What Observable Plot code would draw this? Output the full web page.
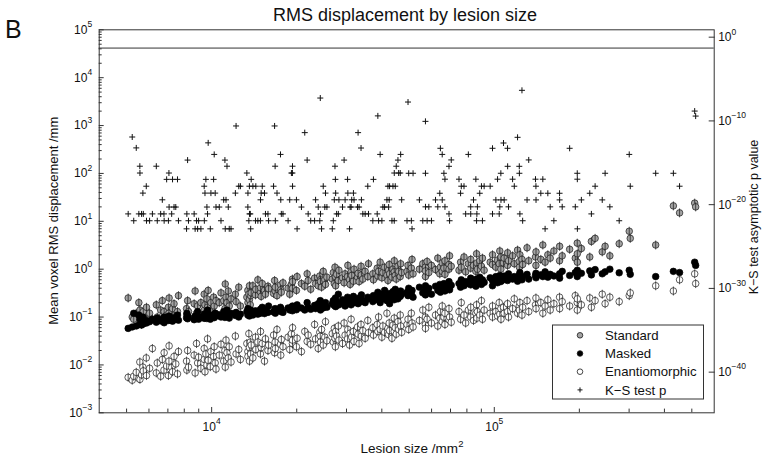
<!DOCTYPE html>
<html><head><meta charset="utf-8">
<script src="https://cdn.jsdelivr.net/npm/d3@7"></script>
<script src="https://cdn.jsdelivr.net/npm/@observablehq/plot@0.6"></script>
<style>
html,body{margin:0;padding:0;background:#fff;}
#chart{position:relative;width:766px;height:457px;overflow:hidden;background:#fff;}
#chart svg{position:absolute;left:0;top:0;}
</style></head><body><div id="chart"></div>
<script>
// ---- data ----
const lesionSize = [
 5065,5235,5300,5410,5525,5570,5575,5650,5710,5730,5870,5880,
 6030,6170,6370,6420,6600,6690,6780,6790,6930,7030,7060,7070,7220,7270,7360,7465,7570,7630,
 8150,8170,8220,8280,8670,8740,8840,8920,8990,9160,9410,9420,9470,9540,9620,9670,9720,9890,9940,10160,10210,10290,10360,
 10640,10790,11030,11140,11170,11240,11330,11450,11540,11710,12130,12200,12470,12640,13320,13430,13440,13540,13600,13610,13700,13740,
 13800,13990,14290,14330,14570,14880,14890,14970,15100,15380,15500,15820,15900,16560,16700,16770,16800,17030,17520,17560,17640,17880,18640,18890,
 19150,19310,19320,19330,19950,20060,20780,21350,21770,21950,22410,23130,23320,23830,24130,24230,24270,24480,24820,25140,25280,25570,
 26720,26940,27160,27310,27400,27460,27680,28070,28200,29040,29420,29660,30260,30330,30750,30900,31150,31300,31740,31900,32810,32970,33240,33770,33880,34270,34920,35680,35880,37180,
 37360,38520,38730,38960,39460,40020,40350,40920,41700,42040,42280,42480,42620,43440,43800,44260,44270,44630,44990,45620,45880,46480,46640,47020,
 49120,49520,49800,50880,51170,51590,54330,55850,57070,57080,57090,57860,58670,59930,61960,63110,64150,64470,65430,65440,66340,66900,66910,69140,69150,69480,70430,
 75010,75990,76420,78140,79200,80960,82530,82540,84430,86060,86560,86780,87160,88840,90070,90810,92080,96700,98560,98570,101300,102700,104100,104600,105500,105600,
 107800,108400,111400,111500,112300,116100,117700,120900,122600,122700,123200,125300,126000,130600,132400,139900,140400,140500,146100,148500,151300,154700,157700,
 162500,170200,170300,173900,184800,193500,196600,196700,196800,203300,217700,220600,227400,241000,246700,256400,276700,300300,302800,
 372500,430200,452500,511800,515900
];
const standard = [
 0.25,0.1,0.09,0.12,0.2,0.08,0.14,0.07,0.11,0.13,0.09,0.16,
 0.12,0.09,0.18,0.1,0.14,0.22,0.09,0.13,0.11,0.16,0.12,0.25,0.1,0.15,0.19,0.11,0.13,0.28,
 0.15,0.11,0.22,0.13,0.19,0.35,0.12,0.17,0.11,0.2,0.3,0.14,0.18,0.12,0.24,0.16,0.36,0.13,0.2,0.26,0.17,0.12,0.22,
 0.2,0.32,0.22,0.15,0.49,0.26,0.2,0.35,0.17,0.24,0.3,0.21,0.42,0.17,0.26,0.36,0.2,0.3,0.23,0.45,0.18,0.28,
 0.32,0.45,0.29,0.38,0.6,0.33,0.41,0.27,0.5,0.36,0.3,0.44,0.39,0.31,0.58,0.35,0.42,0.28,0.47,0.37,0.33,0.52,0.4,0.3,
 0.48,0.62,0.4,0.55,0.36,0.7,0.5,0.44,0.8,0.58,0.38,0.65,0.5,0.45,0.72,0.6,0.55,0.42,0.9,0.6,0.48,0.68,
 0.62,0.85,0.5,1.1,0.7,0.45,0.78,0.58,0.95,0.66,0.52,0.8,0.7,1.2,0.6,0.48,0.88,0.74,0.56,1.0,0.68,0.82,0.55,1.15,0.76,0.62,0.9,0.7,1.3,0.8,
 0.6,1.05,0.72,0.9,1.4,0.66,0.85,1.1,0.75,0.58,0.95,1.25,0.8,0.68,1.0,0.88,1.5,0.74,0.62,1.15,0.9,0.7,1.3,0.85,
 0.9,1.2,0.75,1.05,1.6,0.8,1.0,1.3,0.7,1.1,0.92,1.45,0.85,1.2,0.98,1.7,0.8,1.1,1.35,0.9,1.05,1.5,0.78,1.25,1.0,1.9,1.15,
 0.95,1.4,1.1,1.8,0.88,1.3,1.05,1.6,1.2,0.9,2.1,1.35,1.0,1.5,1.15,1.7,0.95,1.4,1.25,2.0,1.1,1.55,1.3,2.4,1.0,1.8,
 1.35,1.7,1.2,2.2,1.5,1.9,1.3,2.5,1.45,1.1,2.0,1.6,1.25,2.8,1.5,1.8,1.2,2.3,1.6,3.2,1.4,2.0,1.7,
 2.4,1.5,3.0,1.9,2.6,1.7,3.5,2.1,1.4,2.7,1.8,3.8,4.4,2.3,3.0,1.9,3.4,6.2,4.4,
 3.2,21,15,24,20
];
const masked = [
 0.058,0.062,0.12,0.065,0.11,0.07,0.09,0.068,0.1,0.072,0.085,0.075,
 0.08,0.09,0.078,0.095,0.083,0.088,0.1,0.076,0.092,0.085,0.105,0.087,0.094,0.082,0.097,0.09,0.11,0.086,
 0.096,0.12,0.092,0.1,0.088,0.105,0.097,0.13,0.09,0.1,0.094,0.115,0.098,0.108,0.093,0.14,0.1,0.09,0.11,0.102,0.097,0.12,0.105,
 0.112,0.1,0.13,0.098,0.115,0.105,0.14,0.11,0.095,0.12,0.108,0.125,0.1,0.115,0.13,0.11,0.15,0.12,0.105,0.118,0.125,0.14,
 0.12,0.11,0.135,0.128,0.115,0.145,0.12,0.13,0.16,0.118,0.14,0.125,0.17,0.128,0.135,0.15,0.12,0.138,0.16,0.13,0.145,0.125,0.155,0.14,
 0.16,0.135,0.17,0.15,0.142,0.18,0.155,0.14,0.2,0.16,0.145,0.175,0.15,0.19,0.16,0.22,0.14,0.17,0.155,0.18,0.2,0.16,
 0.19,0.22,0.175,0.2,0.25,0.165,0.21,0.3,0.18,0.23,0.2,0.17,0.26,0.19,0.22,0.24,0.18,0.21,0.27,0.2,0.23,0.19,0.25,0.21,0.29,0.22,0.2,0.26,0.24,0.21,
 0.28,0.23,0.33,0.25,0.2,0.3,0.24,0.36,0.22,0.27,0.31,0.25,0.19,0.29,0.34,0.26,0.23,0.38,0.28,0.24,0.32,0.27,0.35,0.3,
 0.33,0.28,0.4,0.3,0.36,0.26,0.42,0.32,0.38,0.29,0.45,0.34,0.4,0.3,0.44,0.36,0.48,0.33,0.42,0.38,0.5,0.35,0.45,0.4,0.55,0.37,0.46,
 0.5,0.42,0.6,0.45,0.55,0.5,0.65,0.47,0.58,0.44,0.62,0.5,0.56,0.68,0.48,0.6,0.53,0.66,0.45,0.58,0.7,0.52,0.62,0.74,0.55,0.64,
 0.6,0.72,0.58,0.66,0.8,0.62,0.7,0.56,0.75,0.64,0.85,0.6,0.7,0.78,0.62,0.73,0.82,0.66,0.76,0.7,0.88,0.68,0.78,
 0.72,0.8,0.65,0.9,0.74,0.85,0.7,0.95,0.78,0.82,0.92,0.76,0.98,0.8,0.88,1.0,0.84,0.95,0.78,
 0.7,0.9,0.85,1.4,1.2
];
const enantiomorphic = [
 0.0055,0.0048,0.0058,0.007,0.0052,0.0115,0.005,0.0062,0.009,0.0075,0.014,0.006,
 0.0085,0.022,0.0068,0.011,0.0058,0.013,0.0078,0.018,0.0095,0.006,0.012,0.025,0.0088,0.0072,0.015,0.0105,0.0065,0.019,
 0.012,0.0078,0.02,0.009,0.016,0.0068,0.028,0.011,0.0145,0.0085,0.022,0.013,0.0072,0.017,0.01,0.035,0.0125,0.0092,0.019,0.015,0.024,0.011,0.0082,
 0.016,0.027,0.012,0.02,0.009,0.033,0.018,0.014,0.024,0.0115,0.04,0.017,0.021,0.013,0.028,0.019,0.015,0.045,0.023,0.012,0.03,0.017,
 0.026,0.014,0.038,0.021,0.03,0.017,0.05,0.023,0.028,0.012,0.035,0.02,0.026,0.042,0.018,0.03,0.022,0.055,0.027,0.016,0.034,0.024,0.038,0.021,
 0.045,0.028,0.033,0.06,0.024,0.036,0.019,0.05,0.031,0.042,0.027,0.07,0.035,0.022,0.048,0.04,0.03,0.055,0.026,0.038,0.08,0.032,
 0.045,0.03,0.058,0.036,0.024,0.05,0.04,0.065,0.033,0.028,0.075,0.042,0.035,0.055,0.026,0.046,0.09,0.038,0.05,0.031,0.062,0.044,0.028,0.07,0.04,0.052,0.036,0.085,0.047,0.06,
 0.042,0.07,0.05,0.1,0.055,0.038,0.065,0.048,0.12,0.058,0.043,0.075,0.052,0.036,0.068,0.095,0.05,0.06,0.044,0.08,0.055,0.11,0.065,0.048,
 0.07,0.09,0.055,0.12,0.075,0.062,0.085,0.14,0.07,0.1,0.058,0.09,0.16,0.075,0.11,0.065,0.095,0.13,0.08,0.17,0.1,0.07,0.12,0.088,0.15,0.1,0.078,
 0.13,0.09,0.2,0.11,0.075,0.14,0.1,0.16,0.085,0.12,0.18,0.095,0.13,0.11,0.22,0.09,0.14,0.12,0.1,0.17,0.13,0.105,0.2,0.115,0.15,0.09,
 0.16,0.12,0.19,0.13,0.1,0.15,0.24,0.12,0.17,0.14,0.2,0.11,0.16,0.22,0.13,0.18,0.25,0.15,0.2,0.12,0.17,0.23,0.14,
 0.19,0.26,0.15,0.21,0.17,0.28,0.2,0.14,0.24,0.18,0.25,0.16,0.22,0.3,0.19,0.26,0.21,0.28,0.32,
 0.45,0.35,0.6,0.8,0.5
];
const ksP = [
 7.9e-22,1.2e-12,1.2e-22,6e-14,7.9e-22,3.9e-16,6e-17,7.9e-22,2.4e-19,7.9e-22,1.6e-18,1.2e-22,
 1.2e-22,7.9e-22,3.9e-16,1.2e-22,7.9e-22,3.8e-20,7.9e-22,1.2e-22,1.05e-17,1.2e-22,6e-17,5.2e-21,7.9e-22,1.05e-17,5.2e-21,5.2e-21,1.05e-17,1.2e-22,
 1.3e-23,7.9e-22,2.1e-15,1.2e-22,7.9e-22,1.3e-23,1.2e-22,1.3e-23,1.2e-22,1.3e-23,1.6e-18,1.2e-22,2.4e-19,1.05e-17,5.2e-21,7.9e-22,2.4e-13,1.3e-23,2.4e-19,1.05e-17,1e-14,2.4e-19,5.2e-21,
 5.2e-21,1.2e-22,3.8e-20,2.1e-15,1.3e-23,3.8e-20,3.9e-16,5.2e-21,1.3e-23,1.3e-23,2.4e-19,2.5e-11,1.6e-18,1.6e-18,6e-17,5.2e-21,2.4e-19,1.2e-22,1.6e-18,7.9e-22,7.9e-22,1.3e-23,
 1.05e-17,1.6e-18,1.2e-22,1.6e-18,1.2e-22,1.2e-22,3.8e-20,2.4e-19,1.6e-18,2.4e-19,7.9e-22,7.9e-22,1.2e-22,1.6e-18,2.5e-11,3.9e-16,1.2e-22,2.4e-19,1e-14,3.8e-20,7.9e-22,7.9e-22,1.2e-22,3.8e-20,
 6e-17,6e-17,3.9e-16,1.6e-18,3.8e-20,1.3e-23,5.2e-21,4e-12,2.1e-15,7.9e-22,1.2e-22,1.2e-22,3.8e-20,5.2e-21,1.2e-22,5.4e-8,7.9e-22,1.3e-23,1.6e-18,5.2e-21,2.4e-19,5.2e-21,
 1.3e-23,1.2e-22,3.8e-20,3.9e-16,1.05e-17,2.4e-19,7.9e-22,7.9e-22,3.8e-20,5.2e-21,2.1e-15,3.8e-20,1.05e-17,2.4e-19,1.3e-23,5.2e-21,5.2e-21,3.8e-20,2.4e-19,3.8e-20,5.2e-21,4e-12,5.2e-21,5.8e-14,3.8e-20,7.9e-22,7.9e-22,1.6e-18,7.9e-22,1.2e-22,
 1.05e-17,7.9e-22,4e-10,1.2e-22,1e-14,1.2e-22,5.2e-21,5.2e-21,3.8e-20,1.6e-18,5.2e-21,3.8e-20,1.6e-18,1.2e-22,1.6e-18,1.2e-22,6e-17,1.6e-18,3.9e-16,2.1e-15,6e-17,6e-17,1e-14,3.8e-20,
 1.2e-22,1.8e-8,5.6e-17,1.2e-22,1.3e-23,5.6e-17,3.7e-20,1.2e-22,8.9e-11,5.6e-17,5.5e-21,1.2e-22,5.5e-21,1.2e-22,3.7e-20,5.5e-21,2.3e-19,5.4e-14,1e-14,3.7e-20,5.6e-17,1.1e-17,5.5e-21,3.8e-16,7.9e-22,1.2e-22,2.2e-15,
 1.1e-17,2.3e-19,1.6e-18,1.6e-18,7.9e-22,1e-14,5.5e-21,7.9e-22,3.7e-20,1.1e-17,1.2e-22,7.9e-22,5.5e-21,2.3e-19,1.6e-18,1.2e-22,1.6e-18,1.6e-18,5.4e-14,7.9e-22,3.7e-20,1.1e-17,7.9e-22,5.5e-21,5.6e-17,3.7e-20,
 2.3e-13,3.7e-20,5.4e-14,3.8e-16,5.5e-21,1.1e-17,1.6e-18,1.1e-12,3.8e-16,5.6e-17,7.9e-22,4.5e-7,1.2e-22,3.7e-20,2.2e-15,1.1e-17,1.6e-18,3.7e-20,2.3e-19,1.1e-17,1.3e-23,2.3e-19,5.5e-21,
 1.2e-22,2.3e-19,3.7e-20,5.5e-21,5.4e-14,5.5e-21,5.6e-17,1.1e-17,1.3e-23,3.7e-20,2.3e-19,7.9e-22,1.6e-18,3.7e-20,5.6e-17,5.5e-21,1.2e-22,1e-14,1.6e-18,
 5.6e-17,5.6e-17,1.6e-18,1.5e-9,3.8e-10
];
const sigLevel = 0.05;
const xDomain = [4000, 600000];
const yDomain = [1e-3, 1e5];
const pDomain = [1.4e-45, 7.6];
const xTicksMajor = [1e4, 1e5];
const xTicksMinor = [5000,6000,7000,8000,9000,20000,30000,40000,50000,60000,70000,80000,90000,200000,300000,400000,500000];
const yTicksMajor = [1e-3,1e-2,1e-1,1e0,1e1,1e2,1e3,1e4,1e5];
const pTicks = [1, 1e-10, 1e-20, 1e-30, 1e-40];
const seriesNames = ["Standard", "Masked", "Enantiomorphic", "K\u2212S test p"];
const titleText = "RMS displacement by lesion size";
const panelLetter = "B";
const yLabel = "Mean voxel RMS displacement /mm";
const y2Label = "K\u2212S test asymptotic p value";
const xLabel = "Lesion size /mm";

// ---- drawing ----
const FONT = "'Liberation Sans', Arial, Helvetica, sans-serif";
const n = Math.min(lesionSize.length, standard.length, masked.length, enantiomorphic.length, ksP.length);
const idx = d3.range(n);
const yTicksMinor = yTicksMajor.slice(0, -1).flatMap(d => d3.range(2, 10).map(k => k * d));
const fmt = v => { const e = Math.round(Math.log10(v)); return "10^" + (e < 0 ? "\u2212" + (-e) : String(e)); };
const phi = {draw(ctx, size) { const r = Math.sqrt(size / Math.PI); ctx.moveTo(r, 0); ctx.arc(0, 0, r, 0, 2 * Math.PI); ctx.moveTo(0, -r - 1.2); ctx.lineTo(0, r + 1.2); }};
const plus = {draw(ctx) { const h = 3; ctx.moveTo(-h, 0); ctx.lineTo(h, 0); ctx.moveTo(0, -h); ctx.lineTo(0, h); }};
const M = {width: 766, height: 457, marginLeft: 98.7, marginRight: 52.3, marginTop: 29.3, marginBottom: 44.7};
const style = {fontFamily: FONT, fontSize: "12px", color: "#111", background: "transparent", overflow: "visible"};

const main = Plot.plot({
  ...M, style,
  x: {type: "log", domain: xDomain},
  y: {type: "log", domain: yDomain},
  marks: [
    Plot.axisX(xTicksMinor, {tickSize: -3.7, tickFormat: () => "", label: null, stroke: "#333"}),
    Plot.axisX(xTicksMajor, {tickSize: -5.3, tickPadding: 14.8, tickFormat: fmt, label: null, stroke: "#333"}),
    Plot.axisY(yTicksMinor, {tickSize: -3, tickFormat: () => "", label: null, stroke: "#333"}),
    Plot.axisY(yTicksMajor, {tickSize: -5, tickPadding: 12, tickFormat: fmt, label: null, stroke: "#333"}),
    Plot.dot(idx, {x: i => lesionSize[i], y: i => standard[i], r: 3.3, symbol: phi, fill: "#a3a3a3", stroke: "#1a1a1a", strokeWidth: 0.7}),
    Plot.dot(idx, {x: i => lesionSize[i], y: i => masked[i], r: 3.3, symbol: "circle", fill: "#000", stroke: "#000", strokeWidth: 0.7}),
    Plot.dot(idx, {x: i => lesionSize[i], y: i => enantiomorphic[i], r: 3.3, symbol: phi, fill: "#fff", stroke: "#1a1a1a", strokeWidth: 0.7}),
    Plot.frame({stroke: "#333", strokeWidth: 1})
  ]
});

const over = Plot.plot({
  ...M, style: {...style, pointerEvents: "none"},
  x: {type: "log", domain: xDomain, axis: null},
  y: {type: "log", domain: pDomain},
  marks: [
    Plot.ruleY([sigLevel], {stroke: "#333", strokeWidth: 1}),
    Plot.axisY(pTicks, {anchor: "right", tickSize: -6, tickPadding: 10, tickFormat: fmt, label: null, stroke: "#333"}),
    Plot.dot(idx, {x: i => lesionSize[i], y: i => ksP[i], r: 3, symbol: plus, fill: "none", stroke: "#111", strokeWidth: 1})
  ]
});

function supTicks(svg) {
  d3.select(svg).selectAll('g[aria-label$="tick label"] text').each(function () {
    const t = this.textContent;
    if (!t.includes("^")) return;
    const [base, exp] = t.split("^");
    const s = d3.select(this);
    s.text(base);
    s.append("tspan").attr("dy", -6.5).attr("font-size", "8.5px").text(exp);
  });
}
supTicks(main); supTicks(over);

const chart = document.getElementById("chart");
chart.appendChild(main);
chart.appendChild(over);

const g = d3.select(over).append("g").attr("font-family", FONT).attr("fill", "#111").attr("text-anchor", "start");
g.append("text").attr("x", 405).attr("y", 21).attr("text-anchor", "middle").attr("font-size", "18px").text(titleText);
g.append("text").attr("x", 5).attr("y", 38).attr("text-anchor", "start").attr("font-size", "25px").text(panelLetter);
g.append("text").attr("transform", "translate(57.5,220.8) rotate(-90)").attr("text-anchor", "middle").attr("font-size", "13px").text(yLabel);
g.append("text").attr("transform", "translate(758,217) rotate(-90)").attr("text-anchor", "middle").attr("font-size", "12.5px").text(y2Label);
const xl = g.append("text").attr("x", 412).attr("y", 452.5).attr("text-anchor", "middle").attr("font-size", "13.5px");
xl.append("tspan").text(xLabel);
xl.append("tspan").attr("dy", -6).attr("font-size", "9.5px").text("2");

// legend
const L = g.append("g");
L.append("rect").attr("x", 552.5).attr("y", 325).attr("width", 151).attr("height", 74).attr("fill", "#fff").attr("stroke", "#333").attr("stroke-width", 1);
const legFill = ["#a3a3a3", "#000", "#fff", null];
seriesNames.forEach((name, i) => {
  const cy = 335.3 + i * 18.2;
  if (legFill[i]) L.append("circle").attr("cx", 580).attr("cy", cy).attr("r", 2.8).attr("fill", legFill[i]).attr("stroke", "#1a1a1a").attr("stroke-width", 0.8);
  else L.append("path").attr("d", `M577.5,${cy}h5M580,${cy - 2.5}v5`).attr("stroke", "#111").attr("fill", "none");
  L.append("text").attr("x", 605).attr("y", cy + 4.7).attr("text-anchor", "start").attr("font-size", "13.2px").text(name);
});
</script></body></html>
